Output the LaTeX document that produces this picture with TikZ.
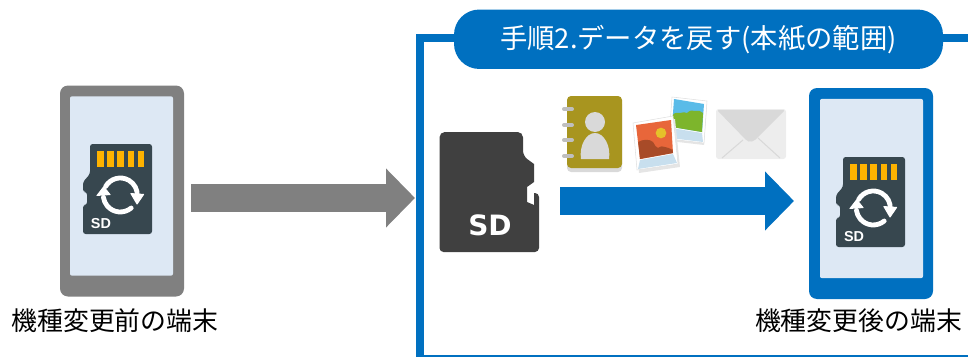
\documentclass[tikz,border=0pt]{standalone}
\usepackage{fontspec}
\setmainfont{Noto Sans CJK JP}
\newfontfamily\cardfont{Liberation Sans}
\newfontfamily\bigcardfont{DejaVu Sans}
\usetikzlibrary{arrows.meta}
\definecolor{stepblue}{HTML}{0070C0}
\definecolor{screenblue}{HTML}{DDE8F4}
\definecolor{cardslate}{HTML}{37474F}
\definecolor{pingold}{HTML}{FFB300}
\definecolor{bookolive}{HTML}{A8951F}
\definecolor{photosky}{HTML}{5ABBE8}
\definecolor{photogreen}{HTML}{7DB52C}
\definecolor{photoorange}{HTML}{E8663A}
\definecolor{photohill}{HTML}{A84B28}
\definecolor{photosun}{HTML}{E5C12A}
\definecolor{photoband}{HTML}{C8DFEE}
\tikzset{phone/.style={rectangle,rounded corners=6pt,minimum width=93pt,minimum height=158.25pt,inner sep=0pt}}
\tikzset{screen/.style={rectangle,rounded corners=1.5pt,fill=screenblue,minimum width=77.25pt,minimum height=134.5pt,inner sep=0pt}}
\tikzset{blockarrow/.style={line width=21.5pt,-{Triangle[length=21.75pt,width=43pt]}}}
\tikzset{phonelabel/.style={font=\fontsize{19.4pt}{23pt}\selectfont,inner sep=0pt}}
\tikzset{steptitle/.style={rectangle,rounded corners=19pt,fill=stepblue,text=white,font=\fontsize{20.5pt}{24pt}\selectfont,minimum width=366.75pt,minimum height=44.6pt,inner sep=0pt}}
\tikzset{photoedge/.style={fill=white,draw=black!12,line width=0.4pt}}
\tikzset{sdcard/.pic={
	\fill[cardslate,rounded corners=2pt] (7,0) -- (69,0) -- (69,90) -- (0,90) -- (0,61) -- (4,61) -- (4,48) -- (0,48) -- (0,38) -- (7,30) -- cycle;
	\foreach \i in {0,...,4}
	{ {
		\fill[pingold] ({14+10.2*\i},7) rectangle +(6.6,15.8);
	} }
	\draw[white,line width=3.6pt,line cap=round] (22.6,42.5) arc[start angle=150,end angle=-5,radius=12.75pt];
	\draw[white,line width=3.6pt,line cap=round] (48.2,64) arc[start angle=-50,end angle=-172,radius=12.75pt];
	\fill[white,rounded corners=0.5pt] (47,49) -- (61.5,50) -- (54,61) -- cycle;
	\fill[white,rounded corners=0.5pt] (13,52) -- (28,51) -- (20.7,42) -- cycle;
	\node (-sd) at (18,79.5) [text=white,inner sep=0pt,font=\cardfont\bfseries\fontsize{10.8pt}{12pt}\selectfont] {SD};
}}

\begin{document}
\begin{tikzpicture}[x=0.75pt,y=-0.75pt]
\useasboundingbox (0,0) rectangle (968,357);
\clip (0,0) rectangle (968,357);

\coordinate (frametl) at (420,37.5);
\coordinate (frametr) at (968,37.5);
\coordinate (framebl) at (420,358.5);
\coordinate (framebr) at (968,358.5);
\draw[stepblue,line width=6pt] (frametr) -- (frametl) -- (framebl) -- (framebr);
\node (title) at (698.5,39.25) [steptitle] {手順2.データを戻す(本紙の範囲)};

\node (phoneold) at (122,191) [phone,fill=black!50] {};
\node (screenold) at (121.5,186) [screen] {};
\pic (cardold) at (83,144) {sdcard};
\node (labelold) at (115,321) [phonelabel] {機種変更前の端末};

\node (phonenew) at (871,193.5) [phone,fill=stepblue] {};
\node (screennew) at (871.5,188.5) [screen] {};
\pic (cardnew) at (836,157) {sdcard};
\node (labelnew) at (858.5,321) [phonelabel] {機種変更後の端末};

\coordinate (sendfrom) at (191,198);
\coordinate (sendto) at (415,198);
\draw[blockarrow,black!50] (sendfrom) -- (sendto);
\coordinate (copyfrom) at (560,201);
\coordinate (copyto) at (794,201);
\draw[blockarrow,stepblue] (copyfrom) -- (copyto);

\fill[black!75,rounded corners=4pt] (439.5,252) -- (439.5,132) -- (523,132) -- (523,156)
	[sharp corners] -- (534,164) -- (534,182) -- (527,187) -- (527,202) -- (534,205) -- (534,193)
	[rounded corners=3pt] -- (539,193) -- (539,252) -- cycle;
\node (sdbig) at (490,225) [text=white,inner sep=0pt,font=\bigcardfont\bfseries\fontsize{21pt}{24pt}\selectfont] {SD};

\fill[black!15,rounded corners=3pt] (567,100) rectangle (622,172);
\fill[bookolive,rounded corners=3pt] (567,96) rectangle (622,168);
\foreach \j in {109,125,140,156}
{ {
	\draw[black!25,line width=3pt,line cap=round] (564,\j) -- (572,\j);
} }
\fill[black!15] (595,122) circle[radius=7.5pt];
\fill[black!15] (581,159) .. controls (579,146) and (586,133) .. (595,133) .. controls (604,133) and (611,146) .. (609,159) -- cycle;

\fill[black!10] (669,141) -- (704,145) -- (707,103) -- (672,99) -- cycle;
\filldraw[photoedge] (672,97) -- (707,101) -- (704,143) -- (669,139) -- cycle;
\fill[photoband] (671,128) -- (702,133) -- (703,142) -- (670,138) -- cycle;
\fill[photosky] (674,99) -- (704,104) -- (702,132) -- (672,127) -- cycle;
\fill[photogreen] (672.8,115) .. controls (675,112) and (678,113) .. (680,113) .. controls (683,112) and (685,112) .. (687,113) .. controls (690,110) and (693,110) .. (695,111) .. controls (698,110) and (701,111) .. (703,113) -- (702,132) -- (672,127) -- cycle;

\fill[black!10] (635,126) -- (675,119) -- (680,167) -- (639,173) -- cycle;
\filldraw[photoedge] (633,123) -- (673,116) -- (678,164) -- (637,170) -- cycle;
\fill[photoband] (640,160) -- (673,154) -- (677,163) -- (638,169) -- cycle;
\fill[photoorange] (636,125) -- (671,120) -- (673,153) -- (640,159) -- cycle;
\fill[photosun] (661,133) circle[radius=4pt];
\fill[photohill] (638.2,142) .. controls (643,139) and (650,139) .. (653,142) .. controls (655,145) and (656,148) .. (658,148) .. controls (661,146) and (663,146) .. (665,147) .. controls (668,147) and (670,149) .. (672.5,150) -- (673,153) -- (640,159) -- cycle;

\fill[black!7,rounded corners=2pt] (716,109) rectangle (786,159);
\fill[black!15,rounded corners=1.5pt] (717,110) -- (785,110) -- (754,141) -- (750,142) -- (747,141) -- cycle;
\draw[black!15,line width=0.8pt] (722,158) -- (743,140);
\draw[black!15,line width=0.8pt] (780,158) -- (758,138);
\end{tikzpicture}
\end{document}
